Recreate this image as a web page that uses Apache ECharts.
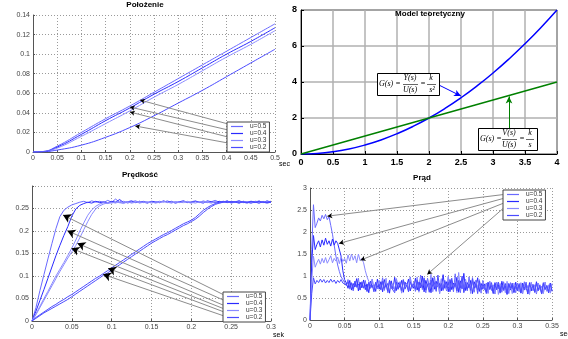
<!DOCTYPE html>
<html>
<head>
<meta charset="utf-8">
<script src="https://cdn.jsdelivr.net/npm/echarts@6.0.0/dist/echarts.min.js"></script>
<style>
html, body { margin: 0; padding: 0; background: #fff; }
#chart { width: 568px; height: 339px; }
</style>
</head>
<body>
<div id="chart"></div>
<script>
// legend names and colours shared by the three measured plots
const uNames = ['u=0.5', 'u=0.4', 'u=0.3', 'u=0.2'];
const uColors = ['#6a6aff', '#2a2aff', '#8a8aff', '#4b4bff'];

// --- Położenie (position)
const tPos = [0, 0.02, 0.05, 0.1, 0.15, 0.2, 0.25, 0.3, 0.35, 0.4, 0.45, 0.5];
const pos5 = [0, 0.0005, 0.006, 0.02, 0.034, 0.047, 0.061, 0.075, 0.089, 0.103, 0.117, 0.131];
const pos4 = [0, 0.0004, 0.005, 0.018, 0.032, 0.045, 0.059, 0.072, 0.086, 0.1, 0.113, 0.127];
const pos3 = [0, 0.0003, 0.004, 0.016, 0.029, 0.042, 0.056, 0.069, 0.083, 0.097, 0.11, 0.124];
const pos2 = [0, 0.0002, 0.002, 0.007, 0.015, 0.025, 0.037, 0.05, 0.063, 0.077, 0.091, 0.105];
const posArrowFrom = [[0.403, 0.0286], [0.403, 0.0225], [0.403, 0.0153], [0.403, 0.0092]];
const posArrowTo = [[0.221, 0.0531], [0.2, 0.046], [0.2, 0.0409], [0.211, 0.0266]];

// --- Model teoretyczny
const tModel = [0, 0.25, 0.5, 0.75, 1, 1.25, 1.5, 1.75, 2, 2.25, 2.5, 2.75, 3, 3.25, 3.5, 3.75, 4];
const yModel = [0, 0.031, 0.125, 0.281, 0.5, 0.781, 1.125, 1.531, 2, 2.531, 3.125, 3.781, 4.5, 5.281, 6.125, 7.031, 8];
const vModel = [0, 0.25, 0.5, 0.75, 1, 1.25, 1.5, 1.75, 2, 2.25, 2.5, 2.75, 3, 3.25, 3.5, 3.75, 4];

// --- Prędkość (velocity)
const tVel = [
  0, 0.005, 0.01, 0.015, 0.02, 0.025, 0.03, 0.035, 0.04, 0.045,
  0.05, 0.055, 0.06, 0.065, 0.07, 0.075, 0.08, 0.085, 0.09, 0.095,
  0.1, 0.105, 0.11, 0.115, 0.12, 0.125, 0.13, 0.135, 0.14, 0.145,
  0.15, 0.155, 0.16, 0.165, 0.17, 0.175, 0.18, 0.185, 0.19, 0.195,
  0.2, 0.205, 0.21, 0.215, 0.22, 0.225, 0.23, 0.235, 0.24, 0.245,
  0.25, 0.255, 0.26, 0.265, 0.27, 0.275, 0.28, 0.285, 0.29, 0.295,
  0.3
];
const vel5 = [
  0, 0.03, 0.068, 0.103, 0.138, 0.172, 0.205, 0.232, 0.246, 0.253,
  0.258, 0.261, 0.264, 0.266, 0.263, 0.267, 0.264, 0.266, 0.263, 0.268,
  0.264, 0.271, 0.263, 0.266, 0.262, 0.265, 0.267, 0.263, 0.266, 0.264,
  0.265, 0.263, 0.266, 0.264, 0.267, 0.263, 0.265, 0.264, 0.266, 0.263,
  0.265, 0.267, 0.264, 0.266, 0.263, 0.265, 0.268, 0.264, 0.265, 0.263,
  0.266, 0.264, 0.267, 0.263, 0.265, 0.266, 0.264, 0.267, 0.263, 0.265,
  0.266
];
const vel4 = [
  0, 0.022, 0.046, 0.07, 0.095, 0.12, 0.145, 0.168, 0.19, 0.21,
  0.233, 0.249, 0.257, 0.261, 0.264, 0.262, 0.266, 0.263, 0.265, 0.262,
  0.266, 0.264, 0.27, 0.263, 0.265, 0.267, 0.263, 0.266, 0.264, 0.262,
  0.266, 0.265, 0.263, 0.267, 0.264, 0.266, 0.262, 0.265, 0.267, 0.264,
  0.263, 0.266, 0.264, 0.262, 0.267, 0.265, 0.263, 0.266, 0.264, 0.267,
  0.263, 0.265, 0.263, 0.266, 0.264, 0.262, 0.266, 0.265, 0.263, 0.267,
  0.264
];
const vel3a = [
  0, 0.016, 0.033, 0.05, 0.066, 0.083, 0.1, 0.115, 0.13, 0.146,
  0.162, 0.18, 0.2, 0.218, 0.235, 0.247, 0.255, 0.26, 0.263, 0.261,
  0.264, 0.262, 0.266, 0.263, 0.265, 0.262, 0.264, 0.266, 0.263, 0.265,
  0.262, 0.265, 0.263, 0.266, 0.264, 0.262, 0.265, 0.263, 0.266, 0.264,
  0.262, 0.265, 0.263, 0.267, 0.264, 0.262, 0.265, 0.263, 0.266, 0.264,
  0.263, 0.265, 0.262, 0.266, 0.264, 0.263, 0.265, 0.262, 0.266, 0.263,
  0.265
];
const vel3b = [
  0, 0.014, 0.03, 0.046, 0.062, 0.078, 0.094, 0.11, 0.125, 0.14,
  0.154, 0.168, 0.185, 0.203, 0.221, 0.237, 0.249, 0.256, 0.26, 0.263,
  0.262, 0.265, 0.263, 0.261, 0.265, 0.263, 0.266, 0.262, 0.264, 0.263,
  0.265, 0.262, 0.264, 0.266, 0.263, 0.265, 0.262, 0.264, 0.263, 0.266,
  0.264, 0.262, 0.265, 0.263, 0.266, 0.263, 0.265, 0.262, 0.264, 0.266,
  0.262, 0.264, 0.266, 0.263, 0.265, 0.262, 0.264, 0.266, 0.263, 0.265,
  0.263
];
const vel2a = [
  0, 0.008, 0.014, 0.02, 0.026, 0.032, 0.037, 0.043, 0.048, 0.054,
  0.059, 0.065, 0.071, 0.077, 0.083, 0.089, 0.095, 0.1, 0.106, 0.112,
  0.118, 0.124, 0.13, 0.136, 0.142, 0.148, 0.154, 0.16, 0.166, 0.172,
  0.177, 0.182, 0.187, 0.192, 0.196, 0.201, 0.206, 0.211, 0.216, 0.22,
  0.224, 0.23, 0.238, 0.246, 0.252, 0.257, 0.261, 0.264, 0.266, 0.263,
  0.266, 0.264, 0.262, 0.265, 0.263, 0.266, 0.264, 0.262, 0.265, 0.263,
  0.265
];
const vel2b = [
  0, 0.006, 0.012, 0.018, 0.023, 0.028, 0.033, 0.038, 0.043, 0.048,
  0.054, 0.06, 0.066, 0.072, 0.078, 0.084, 0.09, 0.096, 0.102, 0.107,
  0.113, 0.119, 0.125, 0.131, 0.137, 0.143, 0.149, 0.155, 0.161, 0.167,
  0.173, 0.178, 0.183, 0.188, 0.192, 0.197, 0.202, 0.207, 0.212, 0.216,
  0.221, 0.226, 0.233, 0.241, 0.248, 0.254, 0.259, 0.262, 0.264, 0.266,
  0.263, 0.265, 0.267, 0.264, 0.262, 0.265, 0.263, 0.266, 0.264, 0.262,
  0.264
];
const velArrowFrom = [[0.2397, 0.059], [0.2397, 0.047], [0.2397, 0.0355], [0.2397, 0.028], [0.2397, 0.021], [0.2397, 0.012]];
const velArrowTo = [[0.0389, 0.2356], [0.0443, 0.2007], [0.0569, 0.1726], [0.0494, 0.1615], [0.0954, 0.117], [0.0891, 0.1037]];

// --- Prąd (current)
const tCur = [
  0, 0.0025, 0.005, 0.0075, 0.01, 0.0125, 0.015, 0.0175, 0.02, 0.0225,
  0.025, 0.0275, 0.03, 0.0325, 0.035, 0.0375, 0.04, 0.0425, 0.045, 0.0475,
  0.05, 0.0525, 0.055, 0.0575, 0.06, 0.0625, 0.065, 0.0675, 0.07, 0.0725,
  0.075, 0.0775, 0.08, 0.0825, 0.085, 0.0875, 0.09, 0.0925, 0.095, 0.0975,
  0.1, 0.1025, 0.105, 0.1075, 0.11, 0.1125, 0.115, 0.1175, 0.12, 0.1225,
  0.125, 0.1275, 0.13, 0.1325, 0.135, 0.1375, 0.14, 0.1425, 0.145, 0.1475,
  0.15, 0.1525, 0.155, 0.1575, 0.16, 0.1625, 0.165, 0.1675, 0.17, 0.1725,
  0.175, 0.1775, 0.18, 0.1825, 0.185, 0.1875, 0.19, 0.1925, 0.195, 0.1975,
  0.2, 0.2025, 0.205, 0.2075, 0.21, 0.2125, 0.215, 0.2175, 0.22, 0.2225,
  0.225, 0.2275, 0.23, 0.2325, 0.235, 0.2375, 0.24, 0.2425, 0.245, 0.2475,
  0.25, 0.2525, 0.255, 0.2575, 0.26, 0.2625, 0.265, 0.2675, 0.27, 0.2725,
  0.275, 0.2775, 0.28, 0.2825, 0.285, 0.2875, 0.29, 0.2925, 0.295, 0.2975,
  0.3, 0.3025, 0.305, 0.3075, 0.31, 0.3125, 0.315, 0.3175, 0.32, 0.3225,
  0.325, 0.3275, 0.33, 0.3325, 0.335, 0.3375, 0.34, 0.3425, 0.345, 0.3475,
  0.35
];
const cur5 = [
  0, 1.6, 2.62, 2.1, 2.2, 2.32, 2.25, 2.38, 2.3, 2.4, 2.28, 2.35, 2.15, 1.95, 1.7, 1.45, 1.25, 1.1, 0.98, 0.92, 0.85,
  0.78, 0.92, 0.7, 0.85, 0.66, 0.88, 0.74, 0.95, 0.69, 0.83, 0.72, 0.9, 0.64, 0.86, 0.76, 0.93, 0.68, 0.84, 0.71, 0.89,
  0.73, 0.96, 0.67, 0.85, 0.62, 0.9, 0.75, 0.82, 0.66, 0.94, 0.7, 0.87, 0.63, 0.91, 0.77, 0.84, 0.68, 0.98, 0.72, 0.86,
  0.65, 0.92, 0.74, 1.02, 0.69, 0.88, 0.62, 0.95, 0.78, 0.84, 0.67, 0.99, 0.71, 0.87, 0.6, 0.93, 0.76, 0.85, 0.66, 0.97,
  0.73, 0.89, 0.64, 1.05, 0.7, 0.86, 0.62, 0.94, 0.75, 0.83, 0.66, 0.98, 0.72, 0.88, 0.63, 0.91, 0.68, 0.85, 0.61, 0.9,
  0.7, 0.84, 0.62, 0.88, 0.67, 0.8, 0.59, 0.86, 0.71, 0.79, 0.63, 0.87, 0.68, 0.81, 0.6, 0.85, 0.7, 0.78, 0.62, 0.84,
  0.66, 0.83, 0.6, 0.87, 0.69, 0.78, 0.62, 0.85, 0.67, 0.8, 0.59, 0.84, 0.7, 0.77, 0.61, 0.86, 0.66, 0.79, 0.63, 0.82
];
const cur4 = [
  0, 1.3, 1.92, 1.6, 1.72, 1.8, 1.66, 1.82, 1.7, 1.86, 1.72, 1.8, 1.68, 1.84, 1.7, 1.8, 1.74, 1.7, 1.45, 1.12, 0.92,
  0.84, 0.72, 0.9, 0.68, 0.83, 0.75, 0.94, 0.66, 0.86, 0.73, 0.91, 0.69, 0.82, 0.62, 0.88, 0.74, 0.8, 0.65, 0.93, 0.7,
  0.87, 0.64, 0.92, 0.76, 0.83, 0.61, 0.89, 0.71, 0.97, 0.67, 0.85, 0.74, 0.9, 0.63, 0.86, 0.78, 0.93, 0.66, 0.81, 0.72,
  0.95, 0.68, 0.86, 0.73, 1.0, 0.64, 0.9, 0.77, 0.84, 0.62, 0.96, 0.7, 0.88, 0.75, 0.83, 0.66, 1.03, 0.72, 0.87, 0.64,
  0.92, 0.69, 0.84, 0.76, 0.97, 0.63, 0.89, 0.71, 1.06, 0.67, 0.85, 0.73, 0.9, 0.6, 0.87, 0.74, 0.96, 0.65, 0.83, 0.7,
  0.82, 0.64, 0.86, 0.71, 0.78, 0.6, 0.85, 0.69, 0.8, 0.63, 0.88, 0.7, 0.77, 0.58, 0.83, 0.68, 0.79, 0.62, 0.86, 0.67,
  0.8, 0.61, 0.84, 0.72, 0.77, 0.59, 0.85, 0.66, 0.81, 0.63, 0.87, 0.69, 0.76, 0.6, 0.83, 0.7, 0.78, 0.62, 0.84, 0.65
];
const cur3 = [
  0, 0.9, 1.45, 1.2, 1.3, 1.38, 1.27, 1.4, 1.3, 1.42, 1.29, 1.37, 1.46, 1.3, 1.4, 1.34, 1.43, 1.28, 1.44, 1.33,
  1.4, 1.29, 1.48, 1.34, 1.5, 1.36, 1.46, 1.3, 1.5, 1.35, 1.4, 1.3, 1.12, 0.98, 0.88,
  0.8, 0.93, 0.7, 0.86, 0.75, 0.9,
  0.68, 0.84, 0.74, 0.95, 0.63, 0.88, 0.71, 0.82, 0.66, 0.92, 0.76, 0.85, 0.61, 0.9, 0.7, 0.83, 0.67, 0.96, 0.73, 0.86,
  0.69, 0.98, 0.63, 0.87, 0.75, 0.93, 0.66, 0.84, 0.72, 1.04, 0.64, 0.89, 0.7, 0.82, 0.61, 0.94, 0.74, 0.86, 0.68, 1.0,
  0.66, 0.9, 0.73, 0.85, 0.62, 1.08, 0.7, 0.88, 0.64, 0.93, 0.77, 0.84, 0.6, 0.97, 0.69, 0.86, 0.74, 0.92, 0.63, 0.87,
  0.68, 0.81, 0.6, 0.87, 0.72, 0.79, 0.64, 0.85, 0.58, 0.83, 0.7, 0.8, 0.62, 0.88, 0.66, 0.78, 0.6, 0.84, 0.71, 0.8,
  0.64, 0.85, 0.6, 0.81, 0.7, 0.78, 0.58, 0.86, 0.67, 0.79, 0.62, 0.83, 0.69, 0.77, 0.6, 0.85, 0.65, 0.8, 0.61, 0.83
];
const cur2 = [
  0, 0.6, 0.96, 0.82, 0.9, 0.85, 0.93, 0.86, 0.92, 0.84, 0.9, 0.85, 0.93, 0.86, 0.91, 0.83, 0.9, 0.85, 0.92, 0.84, 0.88,
  0.8, 0.86, 0.74, 0.84, 0.7, 0.88, 0.76, 0.82, 0.68, 0.87, 0.73, 0.8, 0.66, 0.85, 0.72, 0.79, 0.64, 0.86, 0.75, 0.81,
  0.69, 0.88, 0.72, 0.8, 0.65, 0.9, 0.74, 0.78, 0.62, 0.86, 0.7, 0.83, 0.67, 0.92, 0.71, 0.79, 0.64, 0.87, 0.75, 0.82,
  0.7, 0.9, 0.66, 0.84, 0.73, 0.96, 0.68, 0.81, 0.63, 0.91, 0.76, 0.85, 0.65, 1.02, 0.72, 0.83, 0.67, 0.9, 0.74, 0.86,
  0.64, 0.95, 0.71, 0.84, 0.66, 0.9, 0.73, 1.0, 0.62, 0.86, 0.7, 0.82, 0.67, 0.94, 0.72, 0.83, 0.6, 0.89, 0.69, 0.81,
  0.74, 0.6, 0.82, 0.69, 0.85, 0.63, 0.79, 0.7, 0.86, 0.61, 0.8, 0.67, 0.83, 0.59, 0.81, 0.72, 0.84, 0.64, 0.78, 0.68,
  0.83, 0.62, 0.79, 0.68, 0.86, 0.6, 0.82, 0.71, 0.77, 0.63, 0.84, 0.66, 0.8, 0.59, 0.85, 0.69, 0.78, 0.64, 0.82, 0.67
];
const curArrowFrom = [[0.279, 2.85], [0.279, 2.76], [0.279, 2.65], [0.279, 2.53]];
const curArrowTo = [[0.025, 2.36], [0.0419, 1.74], [0.073, 1.36], [0.1695, 1.036]];

const chart = echarts.init(document.getElementById('chart'));

const pairs = (t, v) => t.map((x, k) => [x, v[k]]);

const line = (name, idx, t, v, color, extra) => Object.assign({
  type: 'line',
  name: name,
  xAxisIndex: idx,
  yAxisIndex: idx,
  data: pairs(t, v),
  symbol: 'none',
  silent: true,
  lineStyle: {width: 1, color: color},
  itemStyle: {color: color},
  z: 2
}, extra || {});

// gray leader lines + black arrow heads, both through markLine
const arrows = (idx, from, to, size) => {
  const d = from.map((f, k) => [{coord: f}, {coord: to[k]}]);
  return [{
    type: 'line', xAxisIndex: idx, yAxisIndex: idx, data: [], silent: true, z: 3,
    markLine: {
      silent: true, animation: false, symbol: 'none', label: {show: false},
      emphasis: {disabled: true},
      lineStyle: {color: '#8c8c8c', width: 1, type: 'solid'},
      data: d
    }
  }, {
    type: 'line', xAxisIndex: idx, yAxisIndex: idx, data: [], silent: true, z: 4,
    markLine: {
      silent: true, animation: false, symbol: ['none', 'arrow'], symbolSize: size,
      label: {show: false}, emphasis: {disabled: true},
      lineStyle: {color: '#000', width: 0, type: 'solid'},
      data: d
    }
  }];
};

const smallAxis = (idx, max, interval, extra) => Object.assign({
  gridIndex: idx,
  type: 'value',
  min: 0,
  max: max,
  interval: interval,
  axisLine: {show: true, onZero: false, lineStyle: {color: '#555', width: 1}},
  axisTick: {show: true, inside: true, length: 2, lineStyle: {color: '#555'}},
  axisLabel: {fontSize: 7, color: '#444', margin: 3, fontFamily: 'Liberation Sans'},
  splitLine: {show: true, lineStyle: {color: '#9a9a9a', width: 1, type: [1, 2]}}
}, extra || {});

const modelAxis = (max, interval) => ({
  gridIndex: 1,
  type: 'value',
  min: 0,
  max: max,
  interval: interval,
  axisLine: {show: true, onZero: false, lineStyle: {color: '#000', width: 1}},
  axisTick: {show: true, inside: true, length: 3, lineStyle: {color: '#000'}},
  axisLabel: {fontSize: 9, color: '#000', fontWeight: 'bold', margin: 4, fontFamily: 'Liberation Sans'},
  splitLine: {show: true, lineStyle: {color: '#b0b0b0', width: 1.5}}
});

const legendBase = {
  orient: 'vertical',
  data: uNames,
  selectedMode: false,
  icon: 'rect',
  backgroundColor: '#fff',
  borderColor: '#444',
  borderWidth: 1,
  borderRadius: 0,
  padding: [1, 3, 1, 4],
  itemGap: 0,
  itemWidth: 12,
  itemHeight: 1.2,
  textStyle: {fontSize: 6.5, color: '#333', lineHeight: 6.5, padding: [0, 0, 0, 2], fontFamily: 'Liberation Sans'},
  z: 10
};

const titleFont = 'bold 8px "Liberation Sans"';
const mathFont = 'italic 8px "Liberation Serif"';
const txt = (text, x, y, font, align) => ({
  type: 'text', z: 100,
  style: {text: text, x: x, y: y, font: font, fill: '#000',
    align: align || 'center', verticalAlign: 'middle',
    textAlign: align || 'center', textVerticalAlign: 'middle'}
});
const bar = (x1, x2, y) => ({
  type: 'line', z: 100,
  shape: {x1: x1, y1: y + 0.5, x2: x2, y2: y + 0.5},
  style: {stroke: '#000', lineWidth: 0.6}
});
const box = (x, y, w, h) => ({
  type: 'rect', z: 99,
  shape: {x: x + 0.5, y: y + 0.5, width: w, height: h},
  style: {fill: '#fff', stroke: '#000', lineWidth: 1}
});

chart.setOption({
  animation: false,
  backgroundColor: '#fff',
  textStyle: {fontFamily: 'Liberation Sans'},
  grid: [
    {left: 33, top: 15, width: 242, height: 137},
    {left: 301, top: 10, width: 256, height: 144, show: true, borderColor: '#000', borderWidth: 1, backgroundColor: '#fff'},
    {left: 32, top: 186, width: 239, height: 135},
    {left: 310, top: 188, width: 242, height: 132}
  ],
  xAxis: [
    smallAxis(0, 0.5, 0.05),
    modelAxis(4, 0.5),
    smallAxis(2, 0.3, 0.05),
    smallAxis(3, 0.35, 0.05)
  ],
  yAxis: [
    smallAxis(0, 0.14, 0.02),
    modelAxis(8, 2),
    smallAxis(2, 0.3, 0.05, {
      axisLabel: {fontSize: 7, color: '#444', margin: 3, fontFamily: 'Liberation Sans',
        formatter: v => (v > 0.29 ? '' : String(+v.toFixed(2)))}
    }),
    smallAxis(3, 3, 0.5)
  ],
  legend: [
    Object.assign({left: 227, top: 122}, legendBase),
    Object.assign({left: 223, top: 292}, legendBase),
    Object.assign({left: 503, top: 190}, legendBase)
  ],
  graphic: [
    txt('Położenie', 145, 5, titleFont),
    txt('Model teoretyczny', 430, 14, titleFont),
    txt('Prędkość', 140, 175, titleFont),
    txt('Prąd', 422, 178, titleFont),
    txt('sec', 279, 164, '7px "Liberation Sans"', 'left'),
    txt('sek', 273, 335, '7px "Liberation Sans"', 'left'),
    txt('sec', 560, 334, '7px "Liberation Sans"', 'left'),
    // G(s) = Y(s)/U(s) = k/s^2
    box(377, 73, 62, 22),
    txt('G(s) =', 379, 84, mathFont, 'left'),
    txt('Y(s)', 410, 78, mathFont),
    bar(403, 418, 84),
    txt('U(s)', 410, 90, mathFont),
    txt('=', 423, 84, mathFont),
    txt('k', 431, 78, mathFont),
    bar(427, 436, 84),
    txt('s²', 432, 90, mathFont),
    // G(s) = V(s)/U(s) = k/s
    box(478, 128, 59, 22),
    txt('G(s) =', 480, 139, mathFont, 'left'),
    txt('V(s)', 509, 133, mathFont),
    bar(502, 517, 139),
    txt('U(s)', 509, 145, mathFont),
    txt('=', 522, 139, mathFont),
    txt('k', 530, 133, mathFont),
    bar(526, 534, 139),
    txt('s', 530, 145, mathFont)
  ],
  series: [
    line(uNames[0], 0, tPos, pos5, uColors[0], {smooth: true}),
    line(uNames[1], 0, tPos, pos4, uColors[1], {smooth: true}),
    line(uNames[2], 0, tPos, pos3, uColors[2], {smooth: true}),
    line(uNames[3], 0, tPos, pos2, uColors[3], {smooth: true}),
    ...arrows(0, posArrowFrom, posArrowTo, [4, 5]),

    line('Y(s)/U(s)', 1, tModel, yModel, '#0000ff', {smooth: true, lineStyle: {width: 1.5, color: '#0000ff'}}),
    line('V(s)/U(s)', 1, tModel, vModel, '#008000', {lineStyle: {width: 1.5, color: '#008000'}}),
    {
      type: 'line', xAxisIndex: 1, yAxisIndex: 1, data: [], silent: true, z: 4,
      markLine: {
        silent: true, animation: false, symbol: ['none', 'arrow'], symbolSize: [5, 7],
        label: {show: false}, emphasis: {disabled: true},
        lineStyle: {color: '#0000ff', width: 1, type: 'solid'},
        data: [[{coord: [2.156, 3.83]}, {coord: [2.5, 3.22]}]]
      }
    },
    {
      type: 'line', xAxisIndex: 1, yAxisIndex: 1, data: [], silent: true, z: 4,
      markLine: {
        silent: true, animation: false, symbol: ['none', 'arrow'], symbolSize: [5, 7],
        label: {show: false}, emphasis: {disabled: true},
        lineStyle: {color: '#008000', width: 1, type: 'solid'},
        data: [[{coord: [3.25, 1.44]}, {coord: [3.25, 3.2]}]]
      }
    },

    line(uNames[0], 2, tVel, vel5, uColors[0]),
    line(uNames[1], 2, tVel, vel4, uColors[1]),
    line(uNames[2], 2, tVel, vel3a, uColors[2]),
    line(uNames[2], 2, tVel, vel3b, uColors[2]),
    line(uNames[3], 2, tVel, vel2a, uColors[3]),
    line(uNames[3], 2, tVel, vel2b, uColors[3]),
    ...arrows(2, velArrowFrom, velArrowTo, [7, 8]),

    line(uNames[0], 3, tCur, cur5, uColors[0]),
    line(uNames[1], 3, tCur, cur4, uColors[1]),
    line(uNames[2], 3, tCur, cur3, uColors[2]),
    line(uNames[3], 3, tCur, cur2, uColors[3]),
    ...arrows(3, curArrowFrom, curArrowTo, [4, 5])
  ]
});
</script>
</body>
</html>
